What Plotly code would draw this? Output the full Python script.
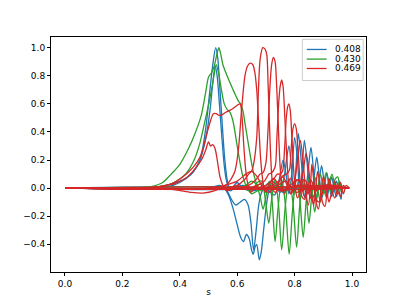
import plotly.graph_objects as go

# ---- data: each curve is a list of (s, value) points ----
LEGEND_LABELS = ["0.408", "0.430", "0.469"]
COLORS = ["#1f77b4", "#2ca02c", "#d62728"]

X_TICKS = [0.0, 0.2, 0.4, 0.6, 0.8, 1.0]
Y_TICKS = [-0.4, -0.2, 0.0, 0.2, 0.4, 0.6, 0.8, 1.0]

blue_peak_a = [(0, 0), (0.25, 0), (0.3, 0.005), (0.35, 0.02), (0.4, 0.05), (0.44, 0.1), (0.47, 0.2),
               (0.49, 0.42), (0.505, 0.7), (0.515, 0.88), (0.525, 1.0), (0.532, 0.93), (0.54, 0.7),
               (0.548, 0.45), (0.556, 0.22), (0.565, 0.06), (0.575, -0.02), (0.59, 0.0), (0.62, 0.02),
               (0.66, 0.0), (0.965, 0)]
blue_peak_b = [(0, 0), (0.3, 0), (0.36, 0.01), (0.4, 0.04), (0.44, 0.1), (0.47, 0.2), (0.49, 0.35),
               (0.505, 0.55), (0.515, 0.75), (0.523, 0.87), (0.53, 0.8), (0.538, 0.6), (0.547, 0.35),
               (0.556, 0.14), (0.566, 0.03), (0.58, 0.0), (0.6, 0.04), (0.62, 0.0), (0.65, -0.02),
               (0.7, 0.0), (0.965, 0)]
blue_neg_a = [(0, 0), (0.5, 0), (0.54, 0.02), (0.555, 0.0), (0.57, -0.05), (0.585, -0.14), (0.6, -0.26),
              (0.612, -0.35), (0.622, -0.38), (0.632, -0.33), (0.642, -0.36), (0.65, -0.44), (0.656, -0.47),
              (0.662, -0.42), (0.668, -0.4), (0.677, -0.51), (0.684, -0.45), (0.692, -0.3), (0.7, -0.15),
              (0.708, -0.04), (0.718, 0.03), (0.73, 0.04), (0.745, 0.0), (0.76, -0.03), (0.78, 0.0), (0.965, 0)]
blue_neg_b = [(0, 0), (0.52, 0), (0.55, 0.01), (0.565, -0.02), (0.58, -0.08), (0.595, -0.12), (0.61, -0.1),
              (0.625, -0.08), (0.638, -0.12), (0.648, -0.25), (0.657, -0.44), (0.666, -0.3), (0.675, -0.12),
              (0.685, -0.03), (0.7, 0.02), (0.72, 0.05), (0.74, 0.02), (0.76, -0.02), (0.8, 0.0), (0.965, 0)]
blue_osc_a = [(0, 0), (0.68, 0), (0.71, -0.02), (0.73, -0.05), (0.745, 0.05), (0.76, 0.2), (0.77, 0.1),
              (0.78, -0.04), (0.79, 0.1), (0.8, 0.36), (0.81, 0.2), (0.818, -0.05), (0.826, 0.12), (0.834, 0.34),
              (0.845, 0.15), (0.855, -0.06), (0.866, 0.05), (0.877, 0.22), (0.886, 0.08), (0.895, -0.07),
              (0.903, 0.0), (0.912, 0.11), (0.92, 0.02), (0.929, -0.06), (0.938, 0.0), (0.946, 0.05),
              (0.955, -0.02), (0.962, -0.08), (0.965, 0)]
blue_osc_b = [(0, 0), (0.7, 0), (0.73, 0.02), (0.75, -0.03), (0.765, 0.1), (0.78, 0.3), (0.79, 0.12),
              (0.797, -0.05), (0.805, 0.15), (0.813, 0.39), (0.825, 0.15), (0.835, -0.07), (0.846, 0.1),
              (0.857, 0.29), (0.867, 0.1), (0.876, -0.08), (0.885, 0.04), (0.894, 0.16), (0.903, 0.04),
              (0.912, -0.07), (0.92, 0.0), (0.929, 0.08), (0.937, 0.0), (0.946, -0.06), (0.955, 0.02),
              (0.96, 0.03), (0.965, -0.01)]

green_peak_a = [(0, 0), (0.25, 0), (0.3, 0.01), (0.34, 0.04), (0.37, 0.1), (0.4, 0.17), (0.43, 0.28),
                (0.455, 0.4), (0.475, 0.52), (0.49, 0.68), (0.5, 0.79), (0.51, 0.82), (0.52, 0.87),
                (0.53, 0.96), (0.536, 1.0), (0.542, 0.96), (0.55, 0.88), (0.557, 0.84), (0.575, 0.75),
                (0.59, 0.68), (0.604, 0.62), (0.612, 0.6), (0.62, 0.55), (0.628, 0.45), (0.64, 0.3),
                (0.65, 0.18), (0.66, 0.08), (0.67, 0.02), (0.685, -0.02), (0.7, 0.0), (0.965, 0)]
green_peak_b = [(0, 0), (0.28, 0), (0.33, 0.01), (0.38, 0.04), (0.42, 0.1), (0.45, 0.2), (0.47, 0.32),
                (0.49, 0.5), (0.503, 0.62), (0.515, 0.75), (0.527, 0.88), (0.535, 0.82), (0.545, 0.7),
                (0.555, 0.6), (0.565, 0.56), (0.575, 0.54), (0.585, 0.48), (0.6, 0.3), (0.61, 0.18),
                (0.62, 0.08), (0.635, 0.0), (0.65, -0.04), (0.67, -0.02), (0.7, 0.0), (0.965, 0)]
green_osc_a = [(0, 0), (0.6, 0), (0.63, 0.02), (0.65, 0.05), (0.665, 0.03), (0.68, -0.06), (0.69, -0.15),
               (0.7, -0.06), (0.712, 0.05), (0.722, -0.1), (0.732, -0.38), (0.742, -0.15), (0.755, 0.06),
               (0.768, -0.12), (0.781, -0.47), (0.793, -0.15), (0.806, 0.06), (0.818, -0.08), (0.83, -0.35),
               (0.84, -0.1), (0.85, 0.07), (0.86, -0.02), (0.87, -0.17), (0.88, -0.02), (0.89, 0.1),
               (0.9, 0.0), (0.91, -0.06), (0.92, 0.03), (0.93, 0.1), (0.94, 0.02), (0.948, -0.04),
               (0.956, 0.05), (0.962, 0.0)]
green_osc_b = [(0, 0), (0.62, 0), (0.65, -0.02), (0.67, 0.04), (0.685, 0.05), (0.698, -0.08), (0.71, -0.25),
               (0.72, -0.08), (0.732, 0.06), (0.744, -0.12), (0.755, -0.44), (0.767, -0.14), (0.78, 0.06),
               (0.794, -0.1), (0.807, -0.42), (0.818, -0.12), (0.83, 0.06), (0.84, -0.05), (0.85, -0.25),
               (0.86, -0.05), (0.87, 0.08), (0.88, 0.0), (0.89, -0.1), (0.9, 0.02), (0.91, 0.11),
               (0.92, 0.03), (0.93, -0.04), (0.94, 0.06), (0.95, 0.08), (0.958, 0.0), (0.963, -0.03)]

red_low_a = [(0, 0), (0.25, 0), (0.3, 0.005), (0.34, 0.015), (0.38, 0.03), (0.42, 0.07), (0.45, 0.13),
             (0.475, 0.2), (0.49, 0.27), (0.5, 0.33), (0.507, 0.3), (0.515, 0.31), (0.523, 0.28),
             (0.532, 0.18), (0.54, 0.08), (0.55, 0.02), (0.565, -0.02), (0.58, 0.0), (0.6, 0.02),
             (0.62, 0.0), (0.99, 0)]
red_low_b = [(0, 0), (0.28, 0), (0.33, 0.01), (0.37, 0.03), (0.41, 0.08), (0.447, 0.15), (0.47, 0.22),
             (0.482, 0.29), (0.5, 0.43), (0.517, 0.53), (0.527, 0.53), (0.535, 0.52), (0.545, 0.52),
             (0.56, 0.54), (0.58, 0.56), (0.6, 0.59), (0.61, 0.6), (0.617, 0.5), (0.623, 0.3),
             (0.63, 0.12), (0.638, 0.02), (0.648, -0.03), (0.66, 0.0), (0.68, 0.03), (0.7, 0.0), (0.99, 0)]
red_low_c = [(0, 0), (0.3, 0), (0.38, -0.01), (0.44, -0.03), (0.48, -0.035), (0.52, -0.02), (0.56, 0.02),
             (0.6, 0.05), (0.63, 0.1), (0.65, 0.12), (0.67, 0.08), (0.69, 0.0), (0.71, -0.03), (0.73, 0.0),
             (0.99, 0)]
red_peak_3 = [(0, 0), (0.5, 0), (0.54, 0.01), (0.565, 0.03), (0.58, 0.07), (0.592, 0.12), (0.604, 0.27),
              (0.615, 0.55), (0.627, 0.8), (0.636, 0.87), (0.645, 0.89), (0.654, 0.88), (0.661, 0.83),
              (0.668, 0.7), (0.675, 0.45), (0.682, 0.2), (0.69, 0.04), (0.698, -0.03), (0.71, 0.02),
              (0.725, 0.07), (0.74, 0.04), (0.755, -0.02), (0.775, 0.0), (0.8, 0.02), (0.99, 0)]
red_peak_4 = [(0, 0), (0.55, 0), (0.6, 0.02), (0.625, 0.06), (0.64, 0.1), (0.65, 0.12), (0.658, 0.18),
              (0.668, 0.36), (0.674, 0.7), (0.68, 0.92), (0.689, 1.0), (0.697, 0.99), (0.703, 0.95),
              (0.708, 0.72), (0.714, 0.36), (0.72, 0.1), (0.727, -0.02), (0.735, -0.03), (0.745, 0.04),
              (0.76, 0.08), (0.772, 0.03), (0.785, -0.03), (0.8, 0.0), (0.82, 0.02), (0.85, 0.0), (0.99, 0)]
red_peak_5 = [(0, 0), (0.6, 0), (0.64, 0.02), (0.665, 0.06), (0.68, 0.1), (0.69, 0.11), (0.7, 0.18),
              (0.707, 0.4), (0.714, 0.72), (0.72, 0.88), (0.726, 0.93), (0.732, 0.9), (0.738, 0.7),
              (0.744, 0.4), (0.75, 0.14), (0.757, 0.0), (0.765, -0.04), (0.775, 0.02), (0.785, 0.07),
              (0.795, 0.04), (0.805, -0.03), (0.82, -0.02), (0.84, 0.01), (0.99, 0)]
red_peak_6 = [(0, 0), (0.63, 0), (0.67, 0.02), (0.695, 0.05), (0.71, 0.1), (0.72, 0.11), (0.732, 0.15),
              (0.738, 0.35), (0.745, 0.62), (0.75, 0.73), (0.755, 0.77), (0.76, 0.72), (0.766, 0.5),
              (0.772, 0.25), (0.778, 0.06), (0.785, -0.04), (0.795, -0.02), (0.805, 0.05), (0.815, 0.06),
              (0.825, 0.0), (0.835, -0.06), (0.85, -0.02), (0.87, 0.01), (0.99, 0)]
red_peak_7 = [(0, 0), (0.66, 0), (0.7, 0.02), (0.725, 0.06), (0.74, 0.1), (0.75, 0.1), (0.758, 0.12),
              (0.765, 0.28), (0.771, 0.5), (0.776, 0.58), (0.78, 0.6), (0.785, 0.55), (0.79, 0.38),
              (0.796, 0.15), (0.802, 0.0), (0.81, -0.07), (0.82, -0.02), (0.83, 0.06), (0.84, 0.05),
              (0.85, -0.04), (0.86, -0.08), (0.875, -0.02), (0.9, 0.02), (0.99, 0)]
red_peak_8 = [(0, 0), (0.68, 0), (0.72, 0.02), (0.745, 0.05), (0.76, 0.09), (0.772, 0.1), (0.782, 0.13),
              (0.788, 0.28), (0.794, 0.42), (0.8, 0.46), (0.806, 0.42), (0.812, 0.26), (0.818, 0.08),
              (0.825, -0.06), (0.835, -0.08), (0.845, 0.0), (0.855, 0.06), (0.865, 0.02), (0.875, -0.08),
              (0.885, -0.1), (0.9, -0.02), (0.92, 0.03), (0.94, 0.0), (0.99, 0)]
red_osc_a = [(0, 0), (0.7, 0), (0.74, 0.02), (0.77, 0.05), (0.79, 0.0), (0.8, 0.05), (0.81, 0.2),
             (0.82, 0.34), (0.83, 0.18), (0.84, -0.05), (0.848, -0.12), (0.855, 0.0), (0.86, 0.17),
             (0.867, 0.05), (0.875, -0.1), (0.883, -0.15), (0.892, -0.02), (0.9, 0.08), (0.91, 0.0),
             (0.92, -0.1), (0.93, -0.02), (0.94, 0.05), (0.95, -0.02), (0.96, -0.06), (0.97, 0.02),
             (0.98, 0.0), (0.99, 0)]
red_osc_b = [(0, 0), (0.72, 0), (0.76, -0.02), (0.79, 0.03), (0.81, 0.06), (0.82, 0.04), (0.83, 0.12),
             (0.84, 0.25), (0.85, 0.12), (0.858, -0.04), (0.866, -0.12), (0.873, -0.02), (0.88, 0.12),
             (0.888, 0.02), (0.897, -0.1), (0.906, -0.13), (0.913, -0.02), (0.92, 0.07), (0.93, -0.02),
             (0.94, -0.07), (0.95, 0.0), (0.96, 0.04), (0.97, -0.04), (0.98, 0.02), (0.99, 0)]

BLUE_CURVES = [blue_peak_a, blue_peak_b, blue_neg_a, blue_neg_b, blue_osc_a, blue_osc_b]
GREEN_CURVES = [green_peak_a, green_peak_b, green_osc_a, green_osc_b]
RED_CURVES = [red_low_a, red_low_b, red_low_c, red_peak_3, red_peak_4, red_peak_5, red_peak_6,
              red_peak_7, red_peak_8, red_osc_a, red_osc_b]

GROUPS = [BLUE_CURVES, GREEN_CURVES, RED_CURVES]

# ---- figure ----
# the page has an 8px body margin on every side, so the figure is 16px smaller
FONT = "DejaVu Sans"
fig = go.Figure()
for label, color, curves in zip(LEGEND_LABELS, COLORS, GROUPS):
    for i, curve in enumerate(curves):
        fig.add_trace(go.Scatter(
            x=[p[0] for p in curve], y=[p[1] for p in curve],
            mode="lines", line=dict(color=color, width=1.3, shape="spline", smoothing=0.8),
            name=label, legendgroup=label, showlegend=False, hoverinfo="skip"))

axis_common = dict(showline=True, mirror=True, linecolor="black", linewidth=1,
                   ticks="outside", ticklen=3, tickwidth=1, tickcolor="black",
                   showgrid=False, zeroline=False, automargin=False,
                   tickfont=dict(family=FONT, size=9, color="black"))

fig.update_layout(
    width=391, height=289,
    margin=dict(l=43, r=33, t=29, b=25),
    paper_bgcolor="white", plot_bgcolor="white",
    showlegend=False,
    font=dict(family=FONT, size=9, color="black"),
    xaxis=dict(range=[-0.0487, 1.0487], tickvals=X_TICKS, tickformat=".1f",
               title=dict(text="s", font=dict(family=FONT, size=9), standoff=0),
               **axis_common),
    yaxis=dict(range=[-0.597, 1.076], tickvals=Y_TICKS, tickformat=".1f", **axis_common),
)

# legend drawn like matplotlib's (box, short line samples, labels)
fig.add_shape(type="rect", xref="paper", yref="paper", x0=0.798, x1=0.991, y0=0.815, y1=0.99,
              line=dict(color="#cccccc", width=1), fillcolor="rgba(255,255,255,0.8)", layer="above")
legend_y = [0.947, 0.906, 0.866]
for label, color, ly in zip(LEGEND_LABELS, COLORS, legend_y):
    fig.add_shape(type="line", xref="paper", yref="paper", x0=0.812, x1=0.875, y0=ly, y1=ly,
                  line=dict(color=color, width=1.3), layer="above")
    fig.add_annotation(xref="paper", yref="paper", x=0.896, y=ly, text=label, showarrow=False,
                       xanchor="left", yanchor="middle", font=dict(family=FONT, size=9, color="black"))

fig.write_html("out.html")
